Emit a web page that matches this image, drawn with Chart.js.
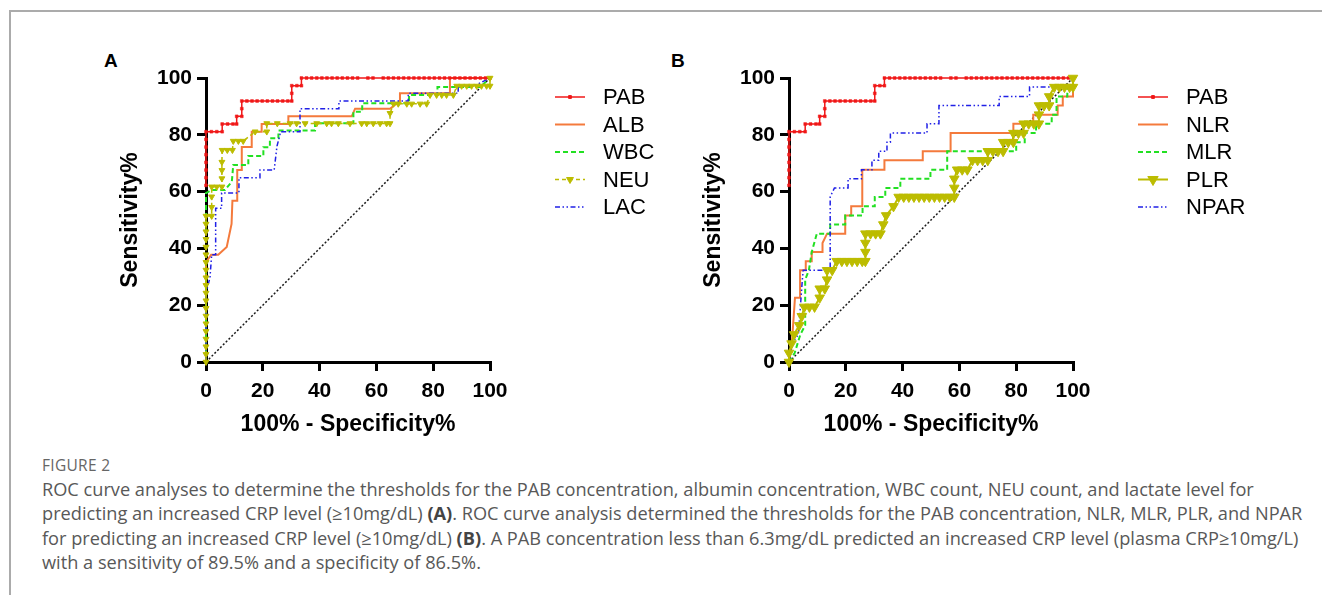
<!DOCTYPE html>
<html>
<head>
<meta charset="utf-8">
<title>Figure 2 - ROC curves</title>
<script src="https://cdn.jsdelivr.net/npm/chart.js@4.4.1/dist/chart.umd.min.js"></script>
<style>
  html, body { margin: 0; padding: 0; background: #fff; }
  body { width: 1322px; height: 595px; position: relative; overflow: hidden; font-family: 'Liberation Sans', Arial, sans-serif; }
  .frame { position: absolute; left: 9px; top: 10px; width: 1320px; height: 600px; border-top: 2px solid #ababab; border-left: 2px solid #ababab; }
  .panel { position: absolute; top: 51px; font-weight: bold; font-size: 19px; line-height: 19px; color: #000; }
  canvas { position: absolute; top: 40px; }
  #chartA { left: 100px; }
  #chartB { left: 683px; }
  .fig { position: absolute; left: 42px; top: 455px; font-family: 'Open Sans', sans-serif; font-size: 15.5px; line-height: 20px; letter-spacing: 0.3px; color: #666; }
  .caption { position: absolute; left: 42px; top: 477px; font-family: 'Open Sans', sans-serif; font-size: 18.2px; line-height: 24.3px; color: #585858; white-space: nowrap; }
  .caption b { color: #444; }
</style>
</head>
<body>
<div class="frame"></div>
<div class="panel" style="left:104px">A</div>
<div class="panel" style="left:671px">B</div>
<canvas id="chartA" width="560" height="410"></canvas>
<canvas id="chartB" width="580" height="410"></canvas>
<div class="fig">FIGURE 2</div>
<div class="caption">
ROC curve analyses to determine the thresholds for the PAB concentration, albumin concentration, WBC count, NEU count, and lactate level for<br>
predicting an increased CRP level (≥10mg/dL) <b>(A)</b>. ROC curve analysis determined the thresholds for the PAB concentration, NLR, MLR, PLR, and NPAR<br>
for predicting an increased CRP level (≥10mg/dL) <b>(B)</b>. A PAB concentration less than 6.3mg/dL predicted an increased CRP level (plasma CRP≥10mg/L)<br>
with a sensitivity of 89.5% and a specificity of 86.5%.
</div>
<script>
// tick values shared by both axes
const tickValues = [0, 20, 40, 60, 80, 100];

const labelsA = ['PAB', 'ALB', 'WBC', 'NEU', 'LAC'];
const labelsB = ['PAB', 'NLR', 'MLR', 'PLR', 'NPAR'];

// [100% - specificity, sensitivity]
const pab = [[0,0],[0,62.2],[0,64.9],[0,67.6],[0,70.3],[0,73],[0,75.7],[0,78.4],[0,81.1],
  [1.9,81.1],[3.8,81.1],[5.7,81.1],[5.7,83.8],[7.6,83.8],[9.5,83.8],[10.8,83.8],[10.8,86.5],
  [12.6,86.5],[12.6,89.2],[12.6,91.9],[14.4,91.9],[16.2,91.9],[18,91.9],[19.8,91.9],[21.6,91.9],
  [23.4,91.9],[25.2,91.9],[27,91.9],[28.8,91.9],[30.2,91.9],[30.2,94.6],[30.2,97.3],[32,97.3],
  [33.6,97.3],[33.6,100],[35.4,100],[37.2,100],[39,100],[40.8,100],[42.6,100],[44.4,100],
  [46.2,100],[48,100],[49.8,100],[51.6,100],[53.4,100],[57,100],[58.8,100],[62.4,100],[64.2,100],
  [66,100],[67.8,100],[69.6,100],[71.4,100],[73.2,100],[75,100],[76.8,100],[78.6,100],[80.4,100],
  [82.2,100],[84,100],[85.8,100],[87.6,100],[89.4,100],[91.2,100],[93,100],[94.8,100],[96.6,100],
  [98.4,100],[100,100]];

const alb = [[0,0],[0,35.1],[1.8,37.8],[4.3,37.8],[7.3,40.5],[9,48.6],[9.3,56.8],[11,56.8],
  [11,67.6],[12.6,67.6],[12.6,75.7],[16.1,75.7],[16.1,81.1],[19.6,81.1],[19.6,83.8],[29,83.8],
  [29,86.5],[51.3,86.5],[52.5,89.2],[64.8,89.2],[68.3,91.9],[68.3,94.6],[85.9,94.6],[85.9,100],[100,100]];

const wbc = [[0,0],[0,59.5],[2,60.6],[6.7,60.6],[9.1,63.5],[9.6,69.4],[14.9,69.4],[14.9,72.5],
  [20.2,72.5],[20.2,75.6],[22.5,75.6],[22.5,78.8],[25.5,78.8],[25.5,81.5],[38.4,81.5],[38.4,84.1],
  [51.9,84.1],[51.9,88.1],[55,88.1],[55,91.1],[71.5,91.1],[71.5,94],[81.5,94],[81.5,96.8],
  [96.5,96.8],[100,100]];

const neu = [[0,0],[0,2.7],[0,5.4],[0,8.1],[0,10.8],[0,13.5],[0,16.2],[0,18.9],[0,21.6],[0,24.3],
  [0,27],[0,29.7],[0,32.4],[0,35.1],[0,37.8],[0,40.5],[0,43.2],[0,45.9],[0,48.6],[0,51.4],
  [2,51.4],[2,54.5],[2,58.2],[2,61.7],[3.8,61.7],[5.6,61.7],[5.6,64.6],[5.6,67.5],[5.6,70.4],
  [5.7,74.6],[7.5,74.6],[9.3,74.6],[9.6,77.8],[11.4,77.8],[13.1,77.8],[17.3,81.1],[21.4,81.1],
  [21.4,84],[25.1,84],[29.6,84],[31.9,84],[34.9,84],[39,84],[42.5,84],[44.2,84],[46.6,84],
  [50.7,84],[54.8,84],[56.6,84],[58.9,84],[61.3,84],[63.6,84],[64.8,84],[64.8,87.6],[66,90.9],
  [67.7,90.9],[70.7,90.9],[72.4,90.9],[75.4,90.9],[77.7,90.9],[78.9,94],[81.2,94],[83,94],
  [84.7,94],[87.1,94],[88.3,97.2],[90,97.2],[91.8,97.2],[93.5,97.2],[95.3,97.2],[97,97.2],
  [98.8,97.2],[100,97.2],[100,100]];

const lac = [[0,0],[0,24.3],[1.4,29.7],[2,37.8],[3.4,37.8],[3.4,54.1],[5.5,54.1],[5.5,59.5],
  [11.6,59.5],[11.6,64.9],[19,64.9],[19,67.6],[24,67.6],[25,76],[26.3,81.1],[33.1,81.1],
  [33.1,89.2],[46.8,89.2],[46.8,91.9],[71.2,91.9],[71.2,94.6],[88.8,94.6],[88.8,97.3],
  [94.6,97.3],[100,100]];

const nlr = [[0,0],[1,6.5],[2.1,22.6],[3.9,22.6],[3.9,32.3],[5.9,32.3],[5.9,35.5],[8,35.5],
  [8,38.7],[11.8,38.7],[11.8,41.9],[13.4,45.2],[19.8,45.2],[19.8,51.6],[21.9,51.6],[21.9,54.8],
  [25.8,54.8],[25.8,67.7],[33.6,67.7],[33.6,71],[47.1,71],[47.1,74.2],[56.9,74.2],[56.9,80.6],
  [79,80.6],[79,83.9],[86,83.9],[86,87.1],[94.6,87.1],[94.6,90.3],[96.4,90.3],[96.4,93.5],
  [100,93.5],[100,100]];

const mlr = [[0,0],[2,3.2],[4,9.7],[5.7,12.9],[5.7,29],[7,32.3],[8,38.7],[9.8,45.2],[14.5,45.2],
  [14.5,48.4],[19.8,48.4],[19.8,51.6],[25.9,51.6],[25.9,54.8],[30.2,54.8],[30.2,58.1],[33.9,58.1],
  [33.9,61.3],[39.2,61.3],[39.2,64.5],[49.8,64.5],[49.8,67.7],[55.7,67.7],[55.7,74.2],[80,74.2],
  [80,77.4],[83,77.4],[83,80.6],[87,80.6],[87,83.9],[92.5,83.9],[92.5,87.1],[94.2,87.1],
  [94.2,93.5],[98,93.5],[98,96.8],[100,96.8],[100,100]];

const plr = [[0,0],[0,3.2],[0.9,6.5],[1.8,9.7],[3.6,12.9],[4.5,16.1],[5.4,19.4],[7.2,19.4],
  [9,19.4],[10.8,22.6],[10.8,25.8],[12.6,25.8],[13.4,29],[13.4,32.3],[15.2,32.3],[16.8,35.5],
  [18.6,35.5],[20.4,35.5],[22.2,35.5],[24,35.5],[25.8,35.5],[26.9,35.5],[26.9,38.7],[26.9,41.9],
  [26.9,45.2],[28.7,45.2],[30.5,45.2],[32.2,45.2],[33.2,48.4],[34.2,51.6],[36.8,54.8],[38.6,58.1],
  [40.4,58.1],[42.2,58.1],[44,58.1],[45.8,58.1],[47.6,58.1],[49.4,58.1],[51.2,58.1],[53,58.1],
  [54.8,58.1],[56.6,58.1],[58.2,58.1],[58.2,61.3],[58.2,64.5],[59.2,67.7],[61,67.7],[62.8,67.7],
  [64.6,71],[66.4,71],[68.2,71],[70,71],[70,74.2],[71.8,74.2],[73.6,74.2],[75.4,74.2],[75.4,77.4],
  [77.2,77.4],[79,77.4],[79,80.6],[80.8,80.6],[82.6,80.6],[82.6,83.9],[84.4,83.9],[86.2,83.9],
  [88,83.9],[88,87.1],[88,90.3],[89.8,90.3],[91.6,90.3],[91.6,93.5],[93.4,96.8],[95.2,96.8],
  [97,96.8],[98.8,96.8],[100,96.8],[100,100]];

const npar = [[0,0],[1,6.5],[3.3,9.7],[4.7,29],[5,32.3],[14.5,32.3],[14.5,58.1],[16,61.3],
  [20.8,61.3],[20.8,64.5],[25.5,64.5],[25.5,67.7],[29.2,67.7],[29.2,71],[31.6,71],[31.6,74.2],
  [34.5,74.2],[34.5,77.4],[35.7,77.4],[35.7,80.6],[48.6,80.6],[48.6,83.9],[52.8,83.9],[52.8,90.3],
  [74,90.3],[74,93.5],[84.7,93.5],[84.7,96.8],[99.9,96.8],[100,100]];

const diagonal = [[0,0],[100,100]];

const RED = '#f01818';
const ORANGE = '#f47a3c';
const GREEN = '#22e022';
const OLIVE = '#bcbc00';
const BLUE = '#2020e6';
const FONT = "'Liberation Sans', Arial, sans-serif";

function pts(list) {
  return list.map(p => ({ x: p[0], y: p[1] }));
}

// legend drawn at the right of each plot, using the dataset styles
const sideLegend = {
  id: 'sideLegend',
  afterDraw(chart, args, opts) {
    const ctx = chart.ctx;
    let row = 0;
    chart.data.datasets.forEach(ds => {
      if (!ds.label) return;
      const y = opts.top + row * opts.gap;
      const x0 = opts.left;
      const x1 = opts.left + 30;
      ctx.save();
      ctx.strokeStyle = ds.borderColor;
      ctx.lineWidth = ds.borderWidth;
      ctx.setLineDash(ds.borderDash || []);
      ctx.beginPath();
      ctx.moveTo(x0, y);
      ctx.lineTo(x1, y);
      ctx.stroke();
      ctx.setLineDash([]);
      if (ds.legendMarker) {
        ctx.fillStyle = ds.borderColor;
        ctx.lineWidth = 1;
        Chart.helpers.drawPoint(ctx, {
          pointStyle: ds.pointStyle,
          rotation: ds.pointRotation || 0,
          radius: ds.legendMarker,
          borderWidth: 1
        }, (x0 + x1) / 2, y);
      }
      ctx.fillStyle = '#000';
      ctx.font = '22px ' + FONT;
      ctx.textBaseline = 'middle';
      ctx.fillText(ds.label, opts.textLeft, y + 1);
      ctx.restore();
      row++;
    });
  }
};

function axis(title, horizontal) {
  return {
    type: 'linear',
    min: 0,
    max: 100,
    afterBuildTicks: s => { s.ticks = tickValues.map(v => ({ value: v })); },
    afterFit: s => {
      if (horizontal) s.height = 88; else s.width = 106;
    },
    ticks: {
      color: '#000',
      font: { family: FONT, size: 21, weight: 'bold' },
      padding: horizontal ? 8 : 5,
      maxRotation: 0
    },
    grid: { drawOnChartArea: false, drawTicks: true, tickLength: 9, color: '#000', lineWidth: 3 },
    border: { display: true, color: '#000', width: 3 },
    title: {
      display: true,
      text: title,
      color: '#000',
      font: { family: FONT, size: 23, weight: 'bold' },
      padding: horizontal ? { top: 0, bottom: 12 } : { top: 17, bottom: 0 }
    }
  };
}

function line(label, data, color, width, dash, order) {
  return {
    label: label,
    data: pts(data),
    borderColor: color,
    backgroundColor: color,
    borderWidth: width,
    borderDash: dash,
    pointRadius: 0,
    fill: false,
    tension: 0,
    clip: false,
    order: order
  };
}

function pabSet(label) {
  const ds = line(label, pab, RED, 1.5, [], 1);
  ds.pointStyle = 'rect';
  ds.pointRadius = c => (c.dataIndex === 0 ? 0 : 2);
  ds.pointBackgroundColor = RED;
  ds.pointBorderColor = RED;
  ds.pointBorderWidth = 0.5;
  ds.legendMarker = 2;
  ds.segment = { borderColor: c => (c.p0DataIndex === 0 ? 'rgba(0,0,0,0)' : undefined) };
  return ds;
}

function triangleSet(label, data, dash, width, radius, legendRadius) {
  const ds = line(label, data, OLIVE, width, dash, 0);
  ds.pointStyle = 'triangle';
  ds.pointRotation = 180;
  ds.pointRadius = radius;
  ds.pointBackgroundColor = OLIVE;
  ds.pointBorderColor = OLIVE;
  ds.pointBorderWidth = 1;
  ds.legendMarker = legendRadius;
  return ds;
}

function diagSet() {
  const ds = line('', diagonal, '#1a1a1a', 1.5, [2, 2], 6);
  return ds;
}

function buildChart(id, datasets) {
  const canvas = document.getElementById(id);
  return new Chart(canvas, {
    type: 'line',
    data: { datasets: datasets },
    options: {
      responsive: false,
      animation: false,
      devicePixelRatio: 1,
      layout: { padding: { top: 38, right: canvas.width - 390, bottom: 0, left: 0 } },
      plugins: {
        legend: { display: false },
        tooltip: { enabled: false },
        sideLegend: { left: 455, textLeft: 503, top: 57, gap: 27.5 }
      },
      scales: {
        x: axis('100% - Specificity%', true),
        y: axis('Sensitivity%', false)
      }
    },
    plugins: [sideLegend]
  });
}

buildChart('chartA', [
  pabSet(labelsA[0]),
  line(labelsA[1], alb, ORANGE, 2, [], 4),
  line(labelsA[2], wbc, GREEN, 2, [5, 3], 3),
  triangleSet(labelsA[3], neu, [4, 3], 1.5, 3.4, 4),
  line(labelsA[4], lac, BLUE, 1.5, [5, 2.5, 1.5, 2.5, 1.5, 2.5], 2),
  diagSet()
]);

buildChart('chartB', [
  pabSet(labelsB[0]),
  line(labelsB[1], nlr, ORANGE, 2, [], 4),
  line(labelsB[2], mlr, GREEN, 2, [5, 3], 3),
  triangleSet(labelsB[3], plr, [], 2, 5.5, 6),
  line(labelsB[4], npar, BLUE, 1.5, [5, 2.5, 1.5, 2.5, 1.5, 2.5], 2),
  diagSet()
]);
</script>
</body>
</html>
